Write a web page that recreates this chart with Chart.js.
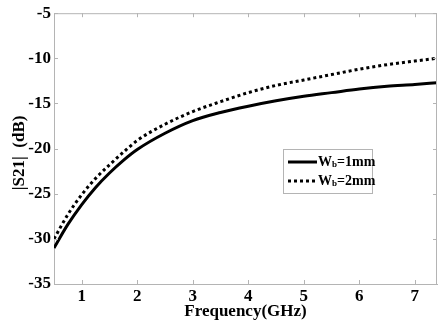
<!DOCTYPE html>
<html>
<head>
<meta charset="utf-8">
<script src="https://cdn.jsdelivr.net/npm/chart.js@4.4.0/dist/chart.umd.min.js"></script>
<style>
  html, body { margin: 0; padding: 0; background: #fff; }
  #wrap { width: 438px; height: 322px; }
</style>
</head>
<body>
<div id="wrap"><canvas id="chart"></canvas></div>
<script>
// frequency points (GHz) and |S21|
const freqs = [0.5, 0.75, 1, 1.25, 1.5, 1.75, 2, 2.5, 3, 3.5, 4, 4.5, 5, 5.5, 6, 6.5, 7, 7.4];
const s21Wb1 = [-31.0, -28.4, -26.2, -24.3, -22.7, -21.3, -20.1, -18.3, -16.9, -16.0, -15.3, -14.7, -14.2, -13.8, -13.4, -13.1, -12.9, -12.7];
const s21Wb2 = [-30.0, -27.3, -25.1, -23.3, -21.8, -20.4, -19.1, -17.3, -15.9, -14.8, -13.8, -13.0, -12.4, -11.8, -11.2, -10.7, -10.3, -10.0];
const seriesNames = [["W", "b", "=1mm"], ["W", "b", "=2mm"]];
const xTicks = [1, 2, 3, 4, 5, 6, 7];

const serif = "'Liberation Serif', 'Times New Roman', serif";
const boxColor = "#b4b4b4";

function toPoints(ys) {
    return freqs.map((f, i) => ({ x: f, y: ys[i] }));
}

// ticks pointing inward + top/right frame, like the matlab box
const boxPlugin = {
    id: "boxPlugin",
    afterDraw(chart) {
        let ctx = chart.ctx;
        let a = chart.chartArea;
        let xs = chart.scales.x, ys = chart.scales.y;
        ctx.save();
        ctx.strokeStyle = boxColor;
        ctx.lineWidth = 1;
        ctx.beginPath();
        ctx.moveTo(a.left, a.top + 0.5);
        ctx.lineTo(a.right, a.top + 0.5);
        ctx.moveTo(a.right - 0.5, a.top);
        ctx.lineTo(a.right - 0.5, a.bottom);
        for (let t of xs.ticks) {
            let px = Math.round(xs.getPixelForValue(t.value)) + 0.5;
            ctx.moveTo(px, a.bottom); ctx.lineTo(px, a.bottom - 4);
            ctx.moveTo(px, a.top); ctx.lineTo(px, a.top + 4);
        }
        for (let t of ys.ticks) {
            let py = Math.round(ys.getPixelForValue(t.value)) + 0.5;
            ctx.moveTo(a.left, py); ctx.lineTo(a.left + 4, py);
            ctx.moveTo(a.right, py); ctx.lineTo(a.right - 4, py);
        }
        ctx.stroke();
        ctx.restore();
    }
};

// legend with subscript b, drawn by hand
const legendPlugin = {
    id: "legendPlugin",
    afterDraw(chart) {
        let ctx = chart.ctx;
        let bx = 283, by = 149, bw = 89, bh = 44;
        ctx.save();
        ctx.fillStyle = "#fff";
        ctx.fillRect(bx, by, bw, bh);
        ctx.strokeStyle = boxColor;
        ctx.lineWidth = 1;
        ctx.strokeRect(bx + 0.5, by + 0.5, bw, bh);
        chart.data.datasets.forEach((ds, i) => {
            let rowY = by + 13 + i * 19;
            ctx.strokeStyle = "#000";
            ctx.lineWidth = ds.borderWidth;
            ctx.setLineDash(ds.borderDash || []);
            ctx.beginPath();
            ctx.moveTo(bx + 5, rowY);
            ctx.lineTo(bx + 34, rowY);
            ctx.stroke();
            ctx.setLineDash([]);
            let parts = seriesNames[i];
            let tx = bx + 35;
            ctx.fillStyle = "#000";
            ctx.textBaseline = "middle";
            ctx.font = "bold 14px " + serif;
            ctx.fillText(parts[0], tx, rowY);
            tx += ctx.measureText(parts[0]).width;
            ctx.font = "bold 9px " + serif;
            ctx.fillText(parts[1], tx, rowY + 3);
            tx += ctx.measureText(parts[1]).width;
            ctx.font = "bold 14px " + serif;
            ctx.fillText(parts[2], tx, rowY);
        });
        ctx.restore();
    }
};

new Chart(document.getElementById("chart"), {
    type: "line",
    data: {
        datasets: [
            {
                label: "Wb=1mm",
                data: toPoints(s21Wb1),
                borderColor: "#000",
                borderWidth: 3,
                pointRadius: 0,
                cubicInterpolationMode: "monotone",
                fill: false
            },
            {
                label: "Wb=2mm",
                data: toPoints(s21Wb2),
                borderColor: "#000",
                borderWidth: 3,
                borderDash: [3, 3],
                borderCapStyle: "butt",
                pointRadius: 0,
                cubicInterpolationMode: "monotone",
                fill: false
            }
        ]
    },
    options: {
        responsive: true,
        maintainAspectRatio: false,
        animation: false,
        layout: { padding: { top: 6, right: 1, left: 0, bottom: 0 } },
        plugins: {
            legend: { display: false },
            tooltip: { enabled: false }
        },
        scales: {
            x: {
                type: "linear",
                min: 0.5,
                max: 7.4,
                afterBuildTicks(scale) {
                    scale.ticks = xTicks.map(v => ({ value: v }));
                },
                afterFit(scale) { scale.height = 38; },
                grid: { display: false, drawTicks: false },
                border: { display: true, color: boxColor },
                ticks: {
                    color: "#000",
                    padding: 2,
                    font: { family: serif, size: 17, weight: "bold" }
                },
                title: {
                    display: true,
                    text: "Frequency(GHz)",
                    color: "#000",
                    padding: { top: 0, bottom: 0 },
                    font: { family: serif, size: 17, weight: "bold" }
                }
            },
            y: {
                min: -35,
                max: -5,
                afterFit(scale) { scale.width = 54; },
                ticks: {
                    stepSize: 5,
                    color: "#000",
                    padding: 3,
                    font: { family: serif, size: 17, weight: "bold" }
                },
                grid: { display: false, drawTicks: false },
                border: { display: true, color: boxColor },
                title: {
                    display: true,
                    // trailing spaces nudge the label down a bit like the original
                    text: "|S21|  (dB)  ",
                    color: "#000",
                    padding: { top: 9, bottom: 0 },
                    font: { family: serif, size: 17, weight: "bold" }
                }
            }
        }
    },
    plugins: [boxPlugin, legendPlugin]
});
</script>
</body>
</html>
